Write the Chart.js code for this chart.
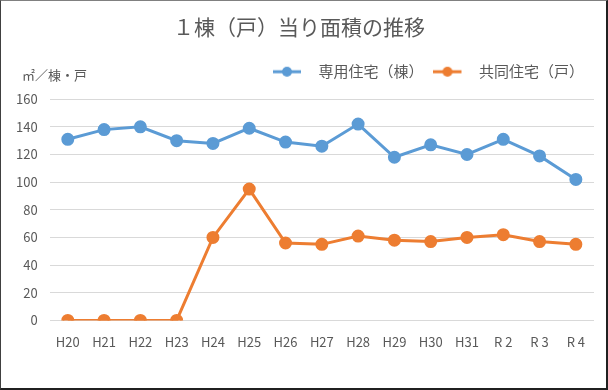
<!DOCTYPE html>
<html>
<head>
<meta charset="utf-8">
<script src="https://cdn.jsdelivr.net/npm/chart.js@4"></script>
<style>
  html, body { margin: 0; padding: 0; background: #fff; }
  #wrap { position: relative; width: 608px; height: 390px; }
  #chart { position: absolute; left: 0; top: 0; }
  #frame {
    position: absolute; left: 0; top: 0; width: 605px; height: 387px;
    border-top: 1px solid #808080; border-left: 1px solid #404040;
    border-right: 2px solid #202020; border-bottom: 2px solid #202020;
    pointer-events: none;
  }
  #unit {
    position: absolute; left: 22px; top: 65px;
    font: 13px 'Noto Sans CJK JP', sans-serif; color: #595959;
  }
</style>
</head>
<body>
<div id="wrap">
  <canvas id="chart" width="608" height="390"></canvas>
  <div id="unit">㎡／棟・戸</div>
  <div id="frame"></div>
</div>
<script>
// data
var years = ['H20', 'H21', 'H22', 'H23', 'H24', 'H25', 'H26', 'H27', 'H28', 'H29', 'H30', 'H31', 'R 2', 'R 3', 'R 4'];
var senyou = [131, 138, 140, 130, 128, 139, 129, 126, 142, 118, 127, 120, 131, 119, 102];
var kyoudou = [0, 0, 0, 0, 60, 95, 56, 55, 61, 58, 57, 60, 62, 57, 55];

var seriesNames = ['専用住宅（棟）', '共同住宅（戸）'];
var seriesColors = ['#5B9BD5', '#ED7D31'];

var fontFamily = "'Noto Sans CJK JP', sans-serif";
var textColor = '#595959';

// legend marker: a short line with a dot, plus empty room on the right
function makeMarker(color) {
    var c = document.createElement('canvas');
    c.width = 38;
    c.height = 12;
    var g = c.getContext('2d');
    g.strokeStyle = color;
    g.lineWidth = 3;
    g.beginPath();
    g.moveTo(0, 6);
    g.lineTo(28, 6);
    g.stroke();
    g.fillStyle = color;
    g.beginPath();
    g.arc(14, 6, 5, 0, Math.PI * 2);
    g.fill();
    return c;
}

// push the plot area a bit further below the legend
var legendGap = {
    id: 'legendGap',
    beforeInit: function(chart) {
        var origFit = chart.legend.fit;
        chart.legend.fit = function() {
            origFit.bind(chart.legend)();
            this.height += 10;
        };
    }
};

var ctx = document.getElementById('chart').getContext('2d');
var chart = new Chart(ctx, {
    type: 'line',
    data: {
        labels: years,
        datasets: [{
            label: seriesNames[0],
            data: senyou,
            borderColor: seriesColors[0],
            backgroundColor: seriesColors[0],
            borderWidth: 3,
            pointRadius: 5,
            pointHoverRadius: 5,
            tension: 0
        }, {
            label: seriesNames[1],
            data: kyoudou,
            borderColor: seriesColors[1],
            backgroundColor: seriesColors[1],
            borderWidth: 3,
            pointRadius: 5,
            pointHoverRadius: 5,
            tension: 0
        }]
    },
    plugins: [legendGap],
    options: {
        responsive: false,
        animation: false,
        layout: {
            padding: { left: 4, right: 14, top: 0, bottom: 34 }
        },
        plugins: {
            title: {
                display: true,
                text: '１棟（戸）当り面積の推移',
                color: textColor,
                font: { family: fontFamily, size: 21, weight: 'normal' },
                padding: { top: 14, bottom: 15 }
            },
            legend: {
                position: 'top',
                align: 'end',
                labels: {
                    color: textColor,
                    font: { family: fontFamily, size: 15 },
                    usePointStyle: true,
                    pointStyleWidth: 38,
                    boxHeight: 12,
                    padding: 10,
                    generateLabels: function(chart) {
                        return chart.data.datasets.map(function(ds, i) {
                            return {
                                text: ds.label,
                                fontColor: textColor,
                                pointStyle: makeMarker(ds.borderColor),
                                datasetIndex: i,
                                hidden: false,
                                lineWidth: 0
                            };
                        });
                    }
                }
            },
            tooltip: { enabled: false }
        },
        scales: {
            x: {
                offset: true,
                grid: { display: false },
                border: { display: false },
                ticks: {
                    color: textColor,
                    font: { family: fontFamily, size: 13 },
                    maxRotation: 0,
                    padding: 6
                }
            },
            y: {
                min: 0,
                max: 160,
                grid: { color: '#D9D9D9', lineWidth: 1, drawTicks: false },
                border: { display: false },
                ticks: {
                    stepSize: 20,
                    color: textColor,
                    font: { family: fontFamily, size: 13 },
                    padding: 12
                }
            }
        }
    }
});
</script>
</body>
</html>
